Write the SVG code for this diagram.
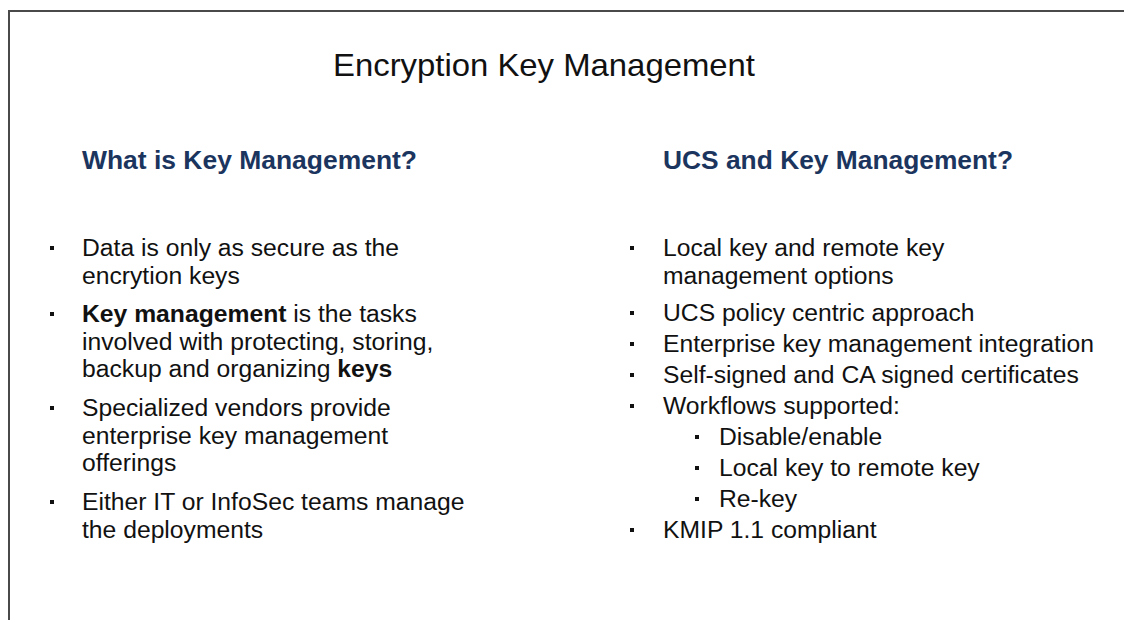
<svg xmlns="http://www.w3.org/2000/svg" width="1124" height="620" viewBox="0 0 1124 620">
  <style>
    .frame { stroke: #4a4a4a; stroke-width: 2; fill: none; }
    .title { font-family: "Liberation Sans", Arial, sans-serif; font-size: 32px; fill: #111111; }
    .head { font-family: "Liberation Sans", Arial, sans-serif; font-size: 25px; font-weight: bold; fill: #1b355e; }
    .body { font-family: "Liberation Sans", Arial, sans-serif; font-size: 24.7px; fill: #111111; }
    .b { font-weight: bold; }
    .dot { fill: #111111; }
  </style>
  <defs>
    <rect id="bul" x="-2" y="-2" width="4" height="4" class="dot"/>
  </defs>
  <rect width="1124" height="620" fill="#ffffff"/>
  <g id="frame">
    <path class="frame" d="M9 620 V11 H1124"/>
  </g>
  <g id="title">
    <text class="title" x="544" y="76" text-anchor="middle" textLength="422" lengthAdjust="spacingAndGlyphs">Encryption Key Management</text>
  </g>
  <g id="left-column">
    <text class="head" x="82" y="169" textLength="335" lengthAdjust="spacingAndGlyphs">What is Key Management?</text>
    <use href="#bul" x="52" y="248"/>
    <text class="body" x="82" y="256">Data is only as secure as the</text>
    <text class="body" x="82" y="283.5">encrytion keys</text>
    <use href="#bul" x="52" y="314"/>
    <text class="body" x="82" y="322"><tspan class="b">Key management</tspan> is the tasks</text>
    <text class="body" x="82" y="349.5">involved with protecting, storing,</text>
    <text class="body" x="82" y="377">backup and organizing <tspan class="b">keys</tspan></text>
    <use href="#bul" x="52" y="408"/>
    <text class="body" x="82" y="416">Specialized vendors provide</text>
    <text class="body" x="82" y="443.5">enterprise key management</text>
    <text class="body" x="82" y="471">offerings</text>
    <use href="#bul" x="52" y="502"/>
    <text class="body" x="82" y="510">Either IT or InfoSec teams manage</text>
    <text class="body" x="82" y="537.5">the deployments</text>
  </g>
  <g id="right-column">
    <text class="head" x="663" y="169" textLength="350" lengthAdjust="spacingAndGlyphs">UCS and Key Management?</text>
    <use href="#bul" x="632" y="248"/>
    <text class="body" x="663" y="256">Local key and remote key</text>
    <text class="body" x="663" y="283.5">management options</text>
    <use href="#bul" x="632" y="313"/>
    <text class="body" x="663" y="321">UCS policy centric approach</text>
    <use href="#bul" x="632" y="344"/>
    <text class="body" x="663" y="352">Enterprise key management integration</text>
    <use href="#bul" x="632" y="375"/>
    <text class="body" x="663" y="383">Self-signed and CA signed certificates</text>
    <use href="#bul" x="632" y="406"/>
    <text class="body" x="663" y="414">Workflows supported:</text>
    <use href="#bul" x="697" y="437"/>
    <text class="body" x="719" y="445">Disable/enable</text>
    <use href="#bul" x="697" y="468"/>
    <text class="body" x="719" y="476">Local key to remote key</text>
    <use href="#bul" x="697" y="499"/>
    <text class="body" x="719" y="507">Re-key</text>
    <use href="#bul" x="632" y="530"/>
    <text class="body" x="663" y="538">KMIP 1.1 compliant</text>
  </g>
</svg>
